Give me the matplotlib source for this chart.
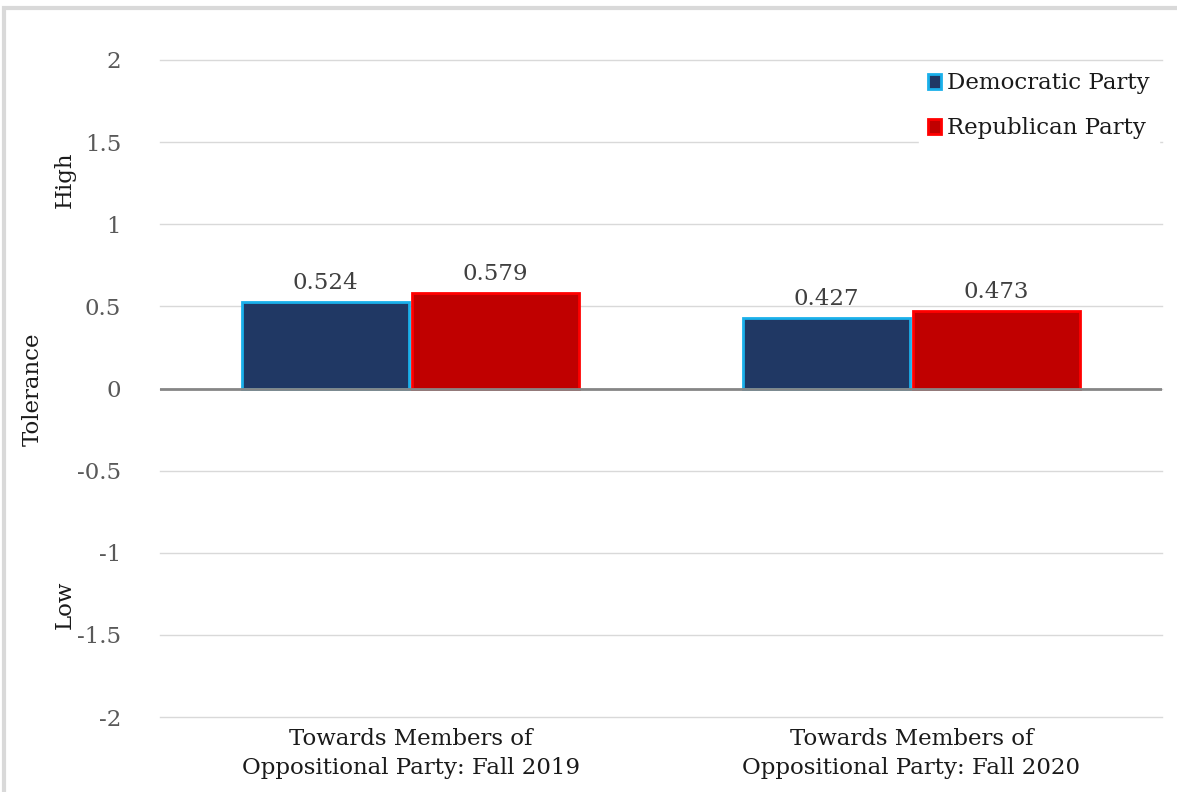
import matplotlib
matplotlib.use("Agg")
import matplotlib.pyplot as plt
from matplotlib.patches import Rectangle
import numpy as np

categories = ["Towards Members of\nOppositional Party: Fall 2019",
              "Towards Members of\nOppositional Party: Fall 2020"]
series_names = ["Democratic Party", "Republican Party"]
dem_values = [0.524, 0.427]
rep_values = [0.579, 0.473]
y_ticks = [-2, -1.5, -1, -0.5, 0, 0.5, 1, 1.5, 2]

plt.rcParams['font.family'] = ['DejaVu Serif']
FS = 16.5

fig = plt.figure(figsize=(11.77, 7.92), dpi=100)
ax = fig.add_axes([160/1177, 1 - 717/792, (1162-160)/1177, (717-60)/792])

x = np.arange(len(categories))
w = 0.333
b1 = ax.bar(x - w/2 - 0.003, dem_values, w, color="#203864", edgecolor="#1ab0ea", linewidth=2, label=series_names[0], zorder=3)
b2 = ax.bar(x + w/2 + 0.003, rep_values, w, color="#c00000", edgecolor="#ff0000", linewidth=2, label=series_names[1], zorder=3)

for bars, vals in ((b1, dem_values), (b2, rep_values)):
    for r, v in zip(bars, vals):
        ax.text(r.get_x() + r.get_width()/2, v + 0.05, f"{v:.3f}", ha="center", va="bottom",
                fontsize=FS, color="#404040")

ax.set_xlim(-0.5, 1.5)
ax.set_ylim(-2, 2)
ax.set_yticks(y_ticks)
ax.set_yticklabels([f"{t:g}" for t in y_ticks])
ax.set_xticks(x)
ax.set_xticklabels(categories, fontsize=FS, color="#1a1a1a", linespacing=1.4)
ax.tick_params(axis="y", length=0, labelsize=FS, labelcolor="#595959", pad=28)
ax.tick_params(axis="x", length=0, pad=8)
ax.grid(axis="y", color="#d9d9d9", linewidth=1, zorder=0)
for gl in ax.get_ygridlines():
    gl.set_clip_on(False)
ax.axhline(0, color="#868686", linewidth=2, zorder=4)
for s in ax.spines.values():
    s.set_visible(False)

leg = ax.legend(loc="upper right", bbox_to_anchor=(0.997, 0.995), frameon=True, fontsize=FS,
                handlelength=0.6, handleheight=0.6, handletextpad=0.25, labelspacing=1.0,
                borderpad=0.4, borderaxespad=0, fancybox=False)
leg.get_frame().set_edgecolor("white")
leg.get_frame().set_facecolor("white")
leg.get_frame().set_alpha(1)
leg.set_zorder(5)
for t in leg.get_texts():
    t.set_color("#1a1a1a")

fig.text(33/1177, 1 - 389/792, "Tolerance", rotation=90, ha="center", va="center", fontsize=FS, color="#1a1a1a")
fig.text(65/1177, 1 - 180/792, "High", rotation=90, ha="center", va="center", fontsize=FS, color="#1a1a1a")
fig.text(65/1177, 1 - 605/792, "Low", rotation=90, ha="center", va="center", fontsize=FS, color="#1a1a1a")

fig.patches.append(Rectangle((4/1177, -0.01), 1.1, 1 - 8/792 + 0.01, transform=fig.transFigure,
                             fill=False, edgecolor="#d9d9d9", linewidth=3))

fig.savefig("out.png", dpi=100, facecolor="white")
